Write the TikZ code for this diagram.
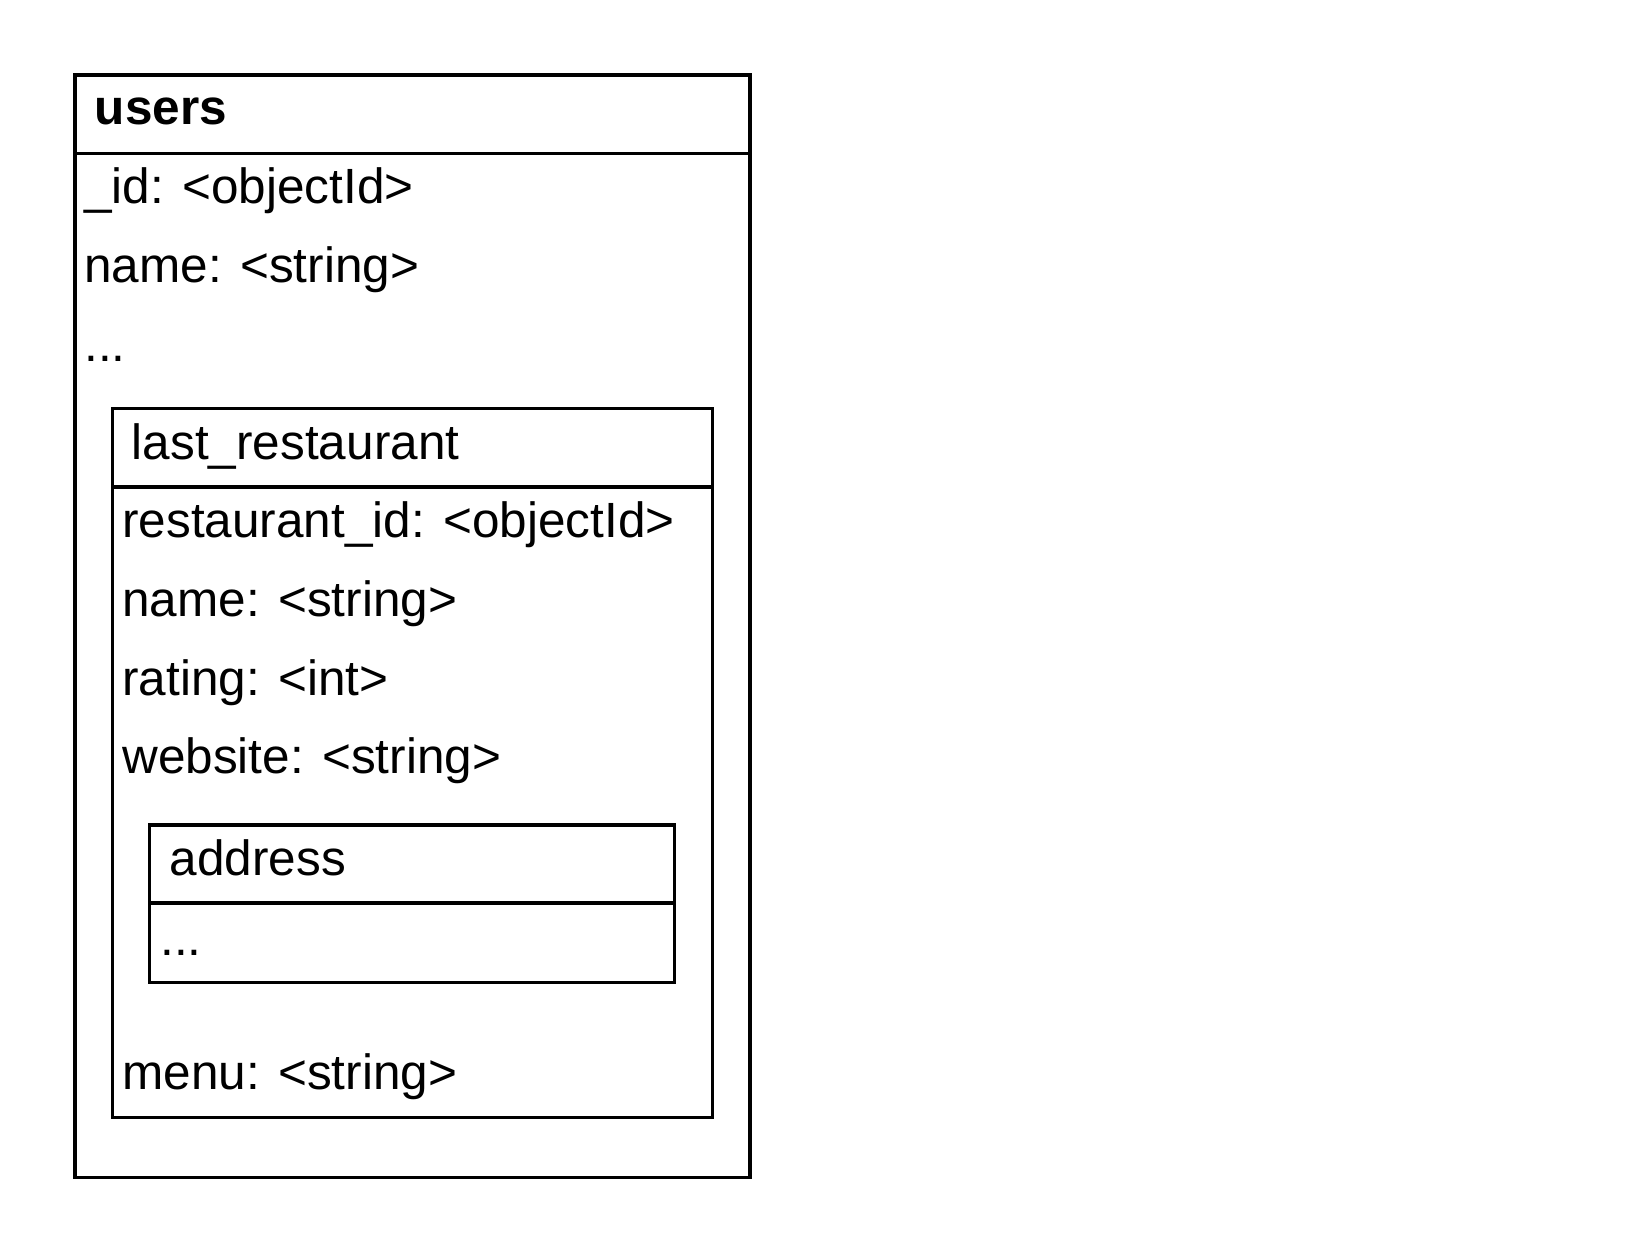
\documentclass[tikz,border=0pt]{standalone}
\usepackage{fontspec}
\setmainfont{Liberation Sans}
\tikzset{
  box/.style={draw=black, line width=1.6pt},
  field/.style={anchor=base west, inner sep=0pt, font=\fontsize{24.75}{30}\selectfont},
  title/.style={field, font=\fontsize{24.75}{30}\selectfont\bfseries},
}
\begin{document}
\begin{tikzpicture}[x=0.5pt,y=-0.5pt]
	\useasboundingbox (0,0) rectangle (1650,1253);
	% users
	\draw[box] (75,75) rectangle (750,1177.5);
	\draw[box] (75,153.5) -- (750,153.5);
	\node[title] (users) at (94.5,124) {users};
	\node[field] (uid) at (84,203) {\_id: <objectId>};
	\node[field] (uname) at (84,282) {name: <string>};
	\node[field] (udots) at (84,361) {...};
	% last_restaurant
	\draw[box] (112.5,408.5) rectangle (712.5,1117.5);
	\draw[box] (112.5,487) -- (712.5,487);
	\node[field] (last) at (131.5,459) {last\_restaurant};
	\node[field] (rid) at (122,537) {restaurant\_id: <objectId>};
	\node[field] (rname) at (122,616) {name: <string>};
	\node[field] (rating) at (122,695) {rating: <int>};
	\node[field] (website) at (122,773) {website: <string>};
	\node[field] (menu) at (122,1089) {menu: <string>};
	% address
	\draw[box] (149.5,825) rectangle (674.5,982.5);
	\draw[box] (149.5,903) -- (674.5,903);
	\node[field] (address) at (169.5,875) {address};
	\node[field] (adots) at (160,955) {...};
\end{tikzpicture}
\end{document}
